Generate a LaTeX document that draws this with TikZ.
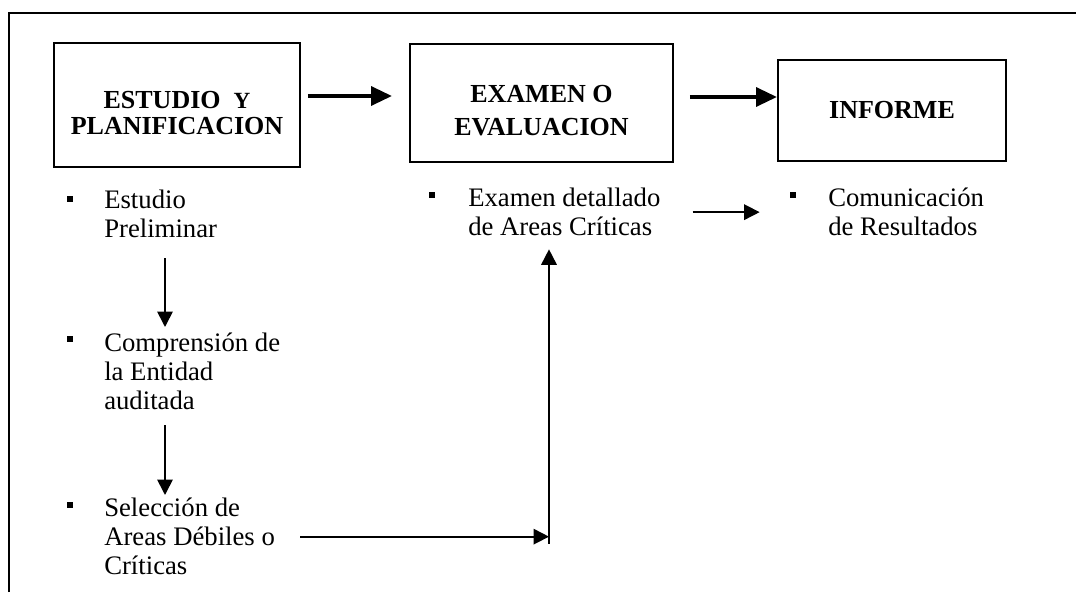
\documentclass[tikz,border=0pt]{standalone}
\usepackage{fontspec}
\setmainfont{Liberation Serif}
\usepackage{tikz}
\usetikzlibrary{arrows.meta,positioning}
\tikzstyle{caja}=[draw, line width=1.1pt, align=center, inner sep=0pt, font=\bfseries\fontsize{18.5}{18.5}\selectfont]
\tikzstyle{texto}=[anchor=north west, align=left, inner sep=0pt, font=\fontsize{19}{20.6}\selectfont]
\tikzstyle{vineta}=[rectangle, fill=black, minimum size=4.4pt, inner sep=0pt]
\tikzstyle{gruesa}=[-{Triangle[length=15pt,width=13pt]}, line width=3.5pt]
\tikzstyle{fina}=[-{Triangle[length=11pt,width=11pt]}, line width=1.2pt]
\tikzstyle{marco}=[line width=1.5pt]

\begin{document}
\begin{tikzpicture}
    \useasboundingbox (0,0) rectangle (26.9,14.8);
    %%%%%  Marco  %%%%%
    \draw [marco] (0.225,0) -- (0.225,14.475) -- (26.9,14.475);

    %%%%%  Etapas  %%%%%
    \node (planif) [caja, minimum width=6.15cm, minimum height=3.1cm] at (4.425,12.175)
      {\rule{0pt}{23pt}ESTUDIO~~{\fontsize{16.5}{16.5}\selectfont Y}\\PLANIFICACION};
    \node (evalua) [caja, minimum width=6.575cm, minimum height=2.95cm,
      font=\bfseries\fontsize{18.5}{23.5}\selectfont] at (13.5375,12.225)
      {\rule{0pt}{23.6pt}EXAMEN O\\EVALUACION};
    \node (informe) [caja, minimum width=5.7cm, minimum height=2.525cm] at (22.3,12.0375) {INFORME};

    \draw [gruesa] ([xshift=0.175cm,yshift=0.225cm]planif.east) -- ([xshift=-0.425cm,yshift=0.175cm]evalua.west);
    \draw [gruesa] ([xshift=0.4cm,yshift=0.15cm]evalua.east) -- ([yshift=0.3375cm]informe.west);

    %%%%%  Estudio y planificacion  %%%%%
    \node (b1) [vineta] at (1.75,9.825) {};
    \node (estudio) [texto] at (2.6,10.05) {Estudio\\Preliminar};
    \node (b2) [vineta] at (1.75,6.325) {};
    \node (compren) [texto] at (2.6,6.475) {Comprensión de\\la Entidad\\auditada};
    \node (b3) [vineta] at (1.75,2.175) {};
    \node (seleccion) [texto] at (2.6,2.35) {Selección de\\Areas Débiles o\\Críticas};

    \draw [fina, shorten <=0.5cm, shorten >=0.15cm] ([xshift=1.525cm]estudio.south west) -- ([xshift=1.525cm]compren.north west);
    \draw [fina, shorten <=0.375cm, shorten >=0.075cm] ([xshift=1.525cm]compren.south west) -- ([xshift=1.525cm]seleccion.north west);

    %%%%%  Examen y comunicacion  %%%%%
    \node (b4) [vineta] at (10.8,9.925) {};
    \node (examen) [texto] at (11.7,10.1) {Examen detallado\\de Areas Críticas};
    \node (b5) [vineta] at (19.825,9.925) {};
    \node (comunic) [texto] at (20.7,10.1) {Comunicación\\de Resultados};

    \coordinate (cima) at ([shift={(2.025,-0.325)}]examen.south west);
    \coordinate (codo) at (seleccion.east -| cima);
    \draw [fina, shorten <=0.625cm] (seleccion.east) -- (codo);
    \draw [fina] ([yshift=-0.175cm]codo) -- (cima);
    \draw [fina, shorten <=0.8cm, shorten >=0.75cm] (examen.east) -- (examen.east -| b5.west);
\end{tikzpicture}
\end{document}
